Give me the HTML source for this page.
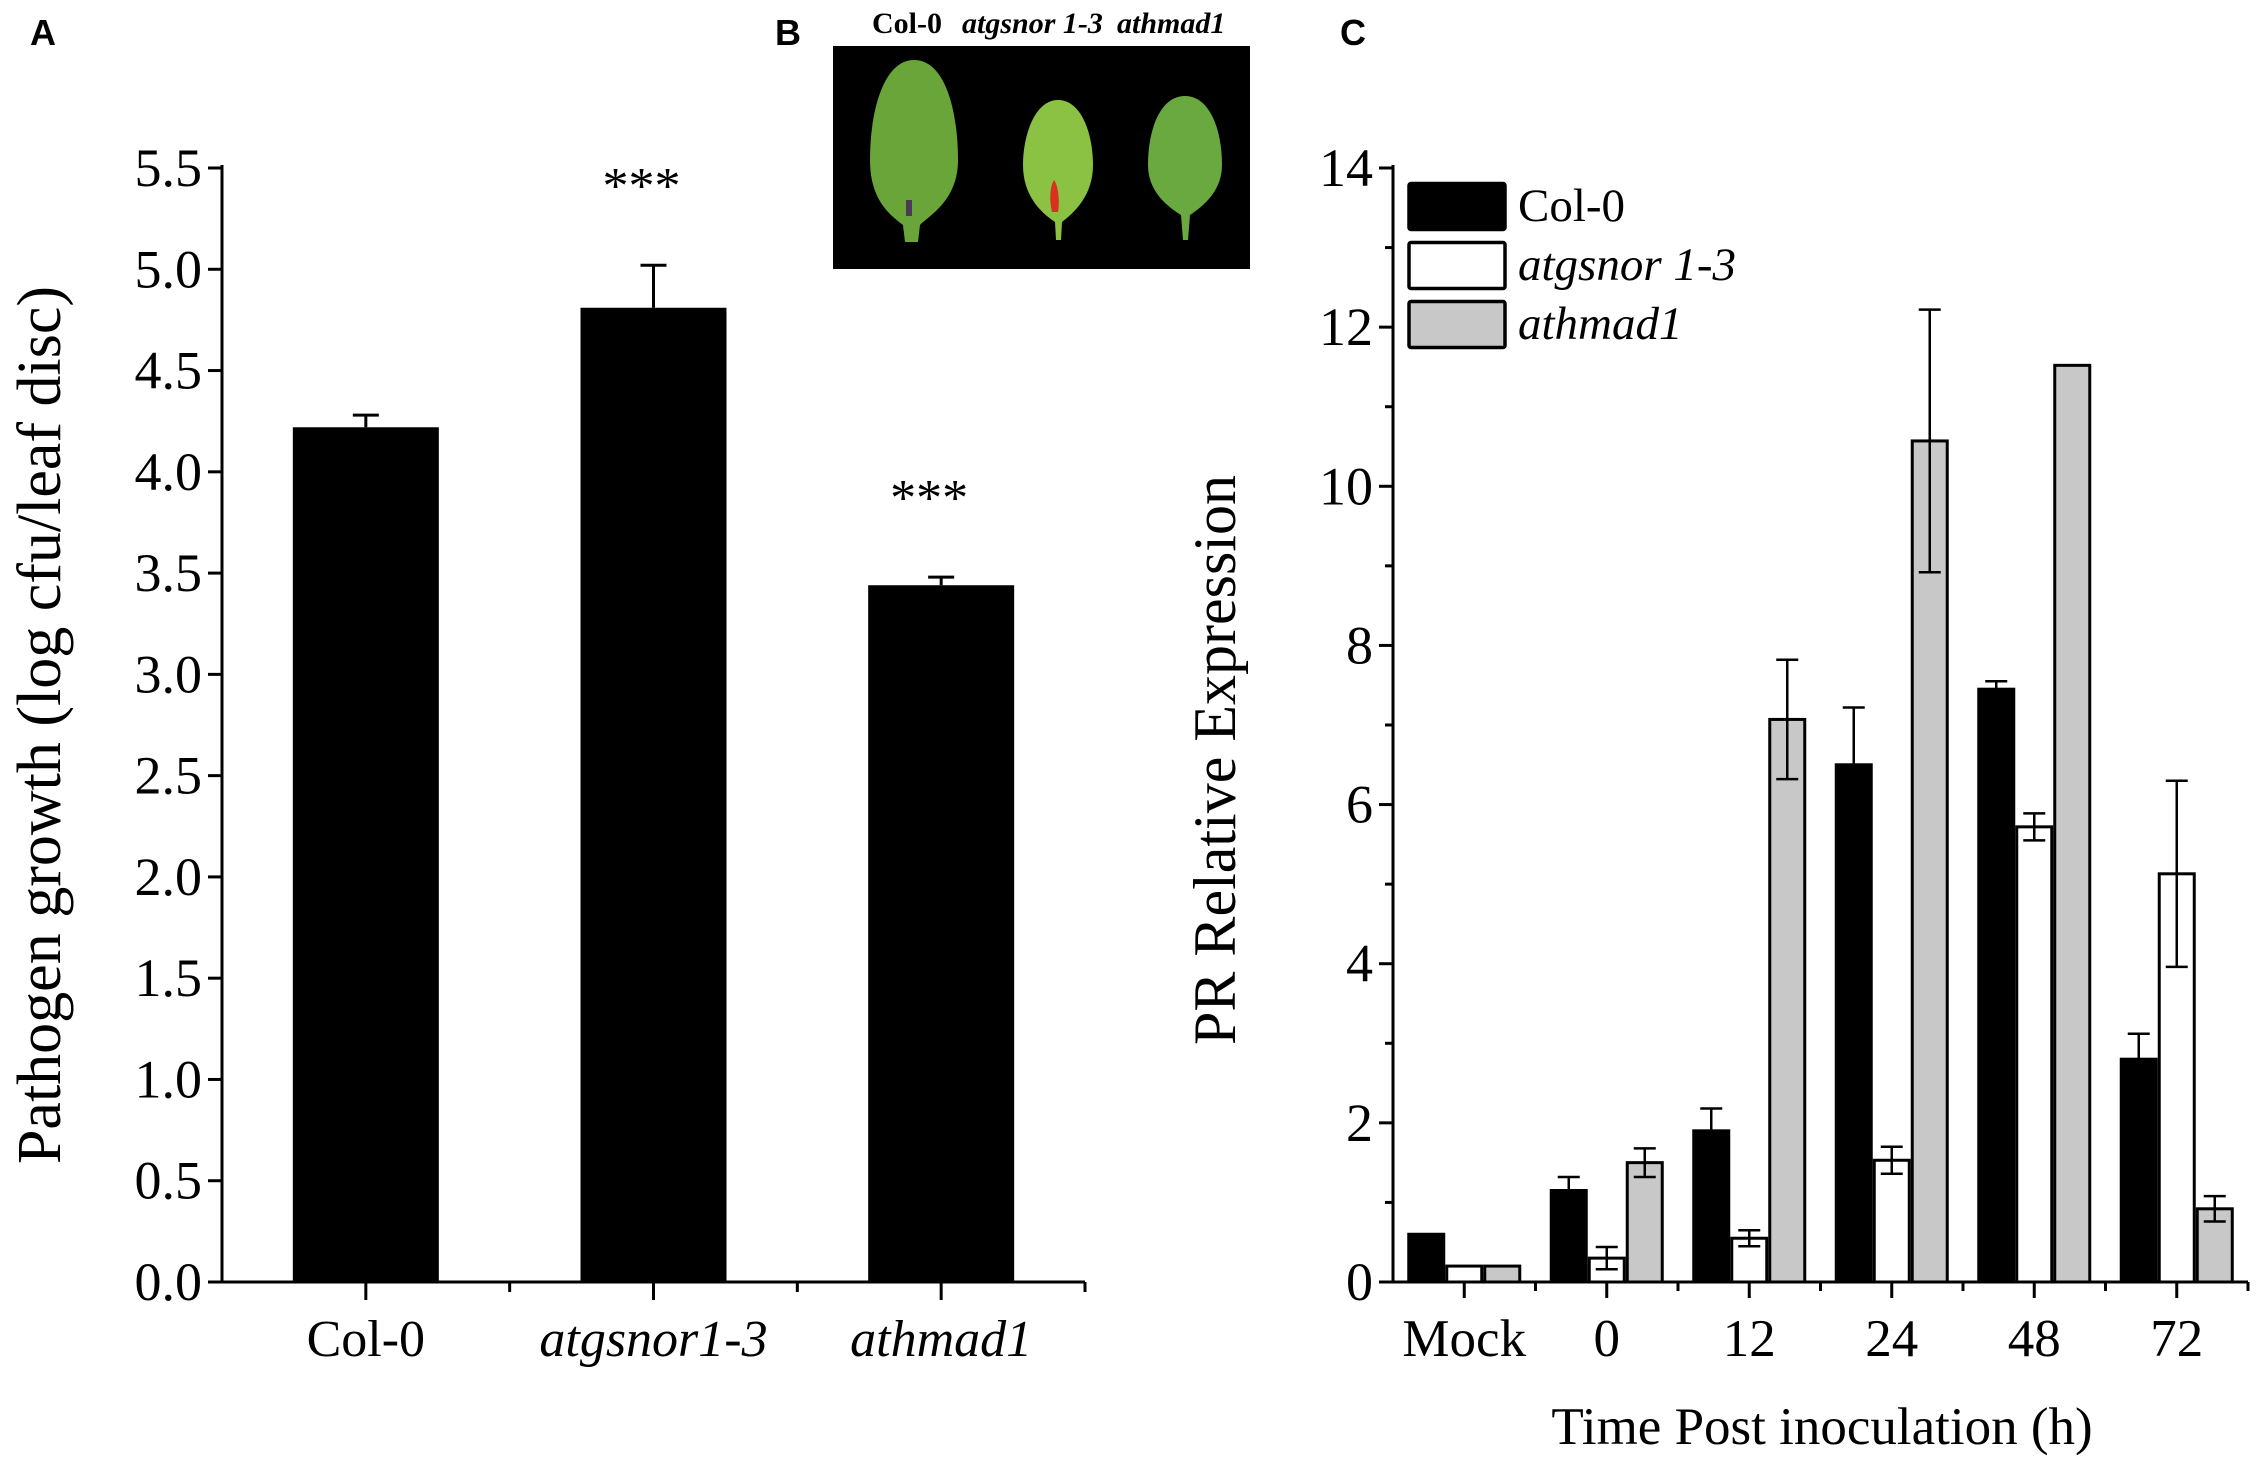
<!DOCTYPE html>
<html><head><meta charset="utf-8"><style>
html,body{margin:0;padding:0;background:#fff;}
svg{display:block;}
text{font-family:"Liberation Serif",serif;fill:#000;}
.lbl{font-family:"Liberation Sans",sans-serif;font-weight:bold;font-size:36px;}
</style></head><body>
<svg id="fig" width="2267" height="1468" viewBox="0 0 2267 1468" xmlns="http://www.w3.org/2000/svg">
  <text class="lbl" x="30" y="45">A</text>
  <text class="lbl" x="775" y="45">B</text>
  <text class="lbl" x="1340" y="45">C</text>
  <g id="panelB">
    <text x="872" y="33" font-size="30" font-weight="bold">Col-0</text>
    <text x="962" y="33" font-size="30" font-weight="bold" font-style="italic">atgsnor 1-3</text>
    <text x="1117" y="33" font-size="30" font-weight="bold" font-style="italic">athmad1</text>
    <rect x="833" y="46" width="417" height="223" fill="#000"/>
    <path d="M914,60 C945,60 958,110 958,160 C958,200 930,215 920,225 L918,242 L905,242 L903,225 C890,215 870,200 870,160 C870,110 884,60 914,60 Z" fill="#6aa53a"/>
    <rect x="906" y="200" width="6" height="16" fill="#4a3a55"/>
    <path d="M1058,100 C1082,100 1093,135 1093,165 C1093,195 1075,212 1062,222 L1061,240 L1056,240 L1055,222 C1040,212 1023,195 1023,165 C1023,135 1035,100 1058,100 Z" fill="#8cc243"/>
    <path d="M1054,180 C1058,185 1060,200 1058,212 L1052,212 C1049,200 1050,186 1054,180 Z" fill="#d8321e"/>
    <path d="M1185,96 C1210,96 1222,130 1222,165 C1222,190 1205,205 1190,215 L1188,240 L1183,240 L1181,215 C1165,205 1148,190 1148,165 C1148,130 1160,96 1185,96 Z" fill="#6aa840"/>
  </g>
  <g id="panelA"></g>
  <g id="panelC"></g>
</svg>
<script>
// Panel A data
const catsA = ["Col-0", "atgsnor1-3", "athmad1"];
const italA = [false, true, true];
const valsA = [4.22, 4.81, 3.44];
const errsA = [0.06, 0.21, 0.04];
const starsA = ["", "***", "***"];
const ticksA = ["0.0","0.5","1.0","1.5","2.0","2.5","3.0","3.5","4.0","4.5","5.0","5.5"];

// Panel C data
const groupsC = ["Mock", "0", "12", "24", "48", "72"];
const seriesNames = ["Col-0", "atgsnor 1-3", "athmad1"];
const col0Vals = [0.6, 1.15, 1.9, 6.5, 7.45, 2.8];
const col0Errs = [0, 0.17, 0.28, 0.72, 0.1, 0.32];
const atgsnorVals = [0.2, 0.3, 0.55, 1.53, 5.72, 5.13];
const atgsnorErrs = [0, 0.14, 0.1, 0.17, 0.17, 1.17];
const athmadVals = [0.2, 1.5, 7.07, 10.57, 11.52, 0.92];
const athmadErrs = [0, 0.18, 0.75, 1.65, 0, 0.16];
const ticksC = [0, 2, 4, 6, 8, 10, 12, 14];

const NS = "http://www.w3.org/2000/svg";
function mk(parent, tag, attrs, txt) {
  const e = document.createElementNS(NS, tag);
  for (const k in attrs) e.setAttribute(k, attrs[k]);
  if (txt !== undefined) e.textContent = txt;
  parent.appendChild(e);
  return e;
}

// ---------- Panel A ----------
(function(){
  const g = document.getElementById("panelA");
  const x0 = 222, x1 = 1085, yB = 1282, yT = 168, vmax = 5.5;
  const y = v => yB - (v / vmax) * (yB - yT);
  const step = (x1 - x0) / catsA.length;
  const cx = i => x0 + step * (i + 0.5);
  const bw = 146;
  catsA.forEach((c, i) => {
    const b = mk(g, "rect", {x: cx(i) - bw/2, y: y(valsA[i]), width: bw, height: yB - y(valsA[i]), fill: "#000"});
    
    
    const top = y(valsA[i] + errsA[i]);
    const e = mk(g, "path", {d: `M${cx(i)},${y(valsA[i])} V${top} M${cx(i)-13},${top} H${cx(i)+13}`, stroke: "#000", "stroke-width": 3, fill: "none"});
    
    
    if (starsA[i]) {
      const s = mk(g, "text", {x: cx(i) - 12, y: top - 62, "font-size": 52, "text-anchor": "middle"}, starsA[i]);
      
      
    }
    const t = mk(g, "text", {x: cx(i), y: 1356, "font-size": 52, "text-anchor": "middle", "font-style": italA[i] ? "italic" : "normal"}, c);
    
    
    mk(g, "line", {x1: cx(i), x2: cx(i), y1: yB, y2: yB + 18, stroke: "#000", "stroke-width": 3});
    mk(g, "line", {x1: x0 + step*(i+1), x2: x0 + step*(i+1), y1: yB, y2: yB + 10, stroke: "#000", "stroke-width": 3});
  });
  ticksA.forEach(t => {
    const v = parseFloat(t);
    mk(g, "line", {x1: x0 - 14, x2: x0, y1: y(v), y2: y(v), stroke: "#000", "stroke-width": 3});
    const l = mk(g, "text", {x: x0 - 20, y: y(v) + 18, "font-size": 54, "text-anchor": "end"}, t);
    
    
  });
  const ax = mk(g, "path", {d: `M${x0},${yT-3} V${yB} H${x1}`, stroke: "#000", "stroke-width": 3, fill: "none"});
  
  
  const yt = mk(g, "text", {x: 0, y: 0, "font-size": 62, "text-anchor": "middle", transform: "translate(60,725) rotate(-90)"}, "Pathogen growth (log cfu/leaf disc)");
  
  
})();

// ---------- Panel C ----------
(function(){
  const g = document.getElementById("panelC");
  const x0 = 1393, x1 = 2248, yB = 1282, yT = 168, vmax = 14;
  const y = v => yB - (v / vmax) * (yB - yT);
  const step = (x1 - x0) / groupsC.length;
  const cx = i => x0 + step * (i + 0.5);
  const bw = 38;
  const series = [[col0Vals, col0Errs, "#000"], [atgsnorVals, atgsnorErrs, "#fff"], [athmadVals, athmadErrs, "#c8c8c8"]];
  groupsC.forEach((gname, i) => {
    series.forEach((s, k) => {
      const v = s[0][i], er = s[1][i];
      const bx = cx(i) + (k - 1) * bw - bw/2;
      const b = mk(g, "rect", {x: bx + 1.5, y: y(v), width: bw - 3, height: yB - y(v), fill: s[2], stroke: "#000", "stroke-width": 3});
      
      
      if (er > 0) {
        const mx = bx + bw/2, t = y(v + er), bo = y(v - er);
        const e = mk(g, "path", {d: `M${mx},${bo} V${t} M${mx-11},${t} H${mx+11} M${mx-11},${bo} H${mx+11}`, stroke: "#000", "stroke-width": 2.5, fill: "none"});
        
        
      }
    });
    mk(g, "line", {x1: cx(i), x2: cx(i), y1: yB, y2: yB + 16, stroke: "#000", "stroke-width": 3});
    mk(g, "line", {x1: x0 + step*(i+1), x2: x0 + step*(i+1), y1: yB, y2: yB + 9, stroke: "#000", "stroke-width": 3});
    const t = mk(g, "text", {x: cx(i), y: 1356, "font-size": 53, "text-anchor": "middle"}, gname);
    
    
  });
  for (let v = 0; v <= vmax; v++) {
    mk(g, "line", {x1: x0 - (v % 2 ? 8 : 14), x2: x0, y1: y(v), y2: y(v), stroke: "#000", "stroke-width": 3});
  }
  ticksC.forEach(v => {
    const l = mk(g, "text", {x: x0 - 20, y: y(v) + 18, "font-size": 54, "text-anchor": "end"}, String(v));
    
    
  });
  const ax = mk(g, "path", {d: `M${x0},${yT-3} V${yB} H${x1}`, stroke: "#000", "stroke-width": 3, fill: "none"});
  
  
  const yt = mk(g, "text", {x: 0, y: 0, "font-size": 60, "text-anchor": "middle", transform: "translate(1235,760) rotate(-90)"}, "PR Relative Expression");
  
  
  const xt = mk(g, "text", {x: 1822, y: 1444, "font-size": 53, "text-anchor": "middle"}, "Time Post inoculation (h)");
  
  
  const legY = [182, 241, 300];
  const fills = ["#000", "#fff", "#c8c8c8"];
  seriesNames.forEach((n, k) => {
    const r = mk(g, "rect", {x: 1409, y: legY[k] + 1.5, width: 96, height: 46, fill: fills[k], stroke: "#000", "stroke-width": 3.5, rx: 2});
    
    
    const t = mk(g, "text", {x: 1518, y: legY[k] + 39, "font-size": 47, "font-style": k ? "italic" : "normal"}, n);
    
    
  });
})();
</script>
</body></html>
